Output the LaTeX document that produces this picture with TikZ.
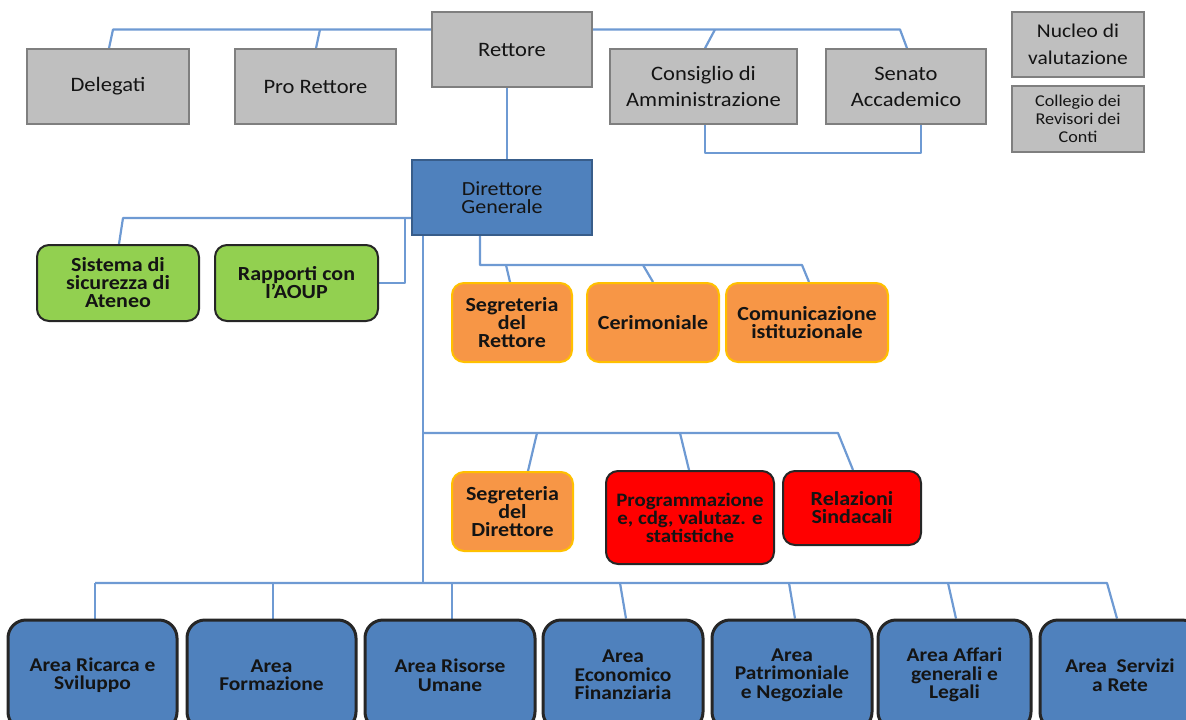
\documentclass[tikz,border=0pt]{standalone}
\usepackage{fontspec}
\setmainfont{Carlito}[FakeStretch=1.1]
\usetikzlibrary{backgrounds}
\definecolor{grayfill}{HTML}{BFBFBF}
\definecolor{grayline}{HTML}{7F7F7F}
\definecolor{bluefill}{HTML}{4F81BD}
\definecolor{blueline}{HTML}{385D8A}
\definecolor{greenfill}{HTML}{92D050}
\definecolor{orangefill}{HTML}{F79646}
\definecolor{orangeline}{HTML}{FFC000}
\definecolor{redfill}{HTML}{FF0000}
\definecolor{connc}{HTML}{6E9AD3}
\definecolor{txt}{HTML}{141414}
\tikzset{
  box/.style={rectangle, inner sep=2pt, align=center, text=txt},
  graybox/.style={box, fill=grayfill, draw=grayline, line width=1.5pt, font=\fontsize{20.5}{26}\selectfont},
  smallgray/.style={box, fill=grayfill, draw=grayline, line width=1.5pt, font=\fontsize{16.5}{18}\selectfont},
  dgbox/.style={box, fill=bluefill, draw=blueline, line width=1.5pt, font=\fontsize{20}{18}\selectfont},
  areabox/.style={box, fill=bluefill, draw=black!85, line width=3pt, rounded corners=18pt, font=\bfseries\fontsize{19.5}{18.5}\selectfont},
  greenbox/.style={box, fill=greenfill, draw=black!85, line width=2pt, rounded corners=12pt, font=\bfseries\fontsize{20}{18}\selectfont},
  orangebox/.style={box, fill=orangefill, draw=orangeline, line width=2pt, rounded corners=12pt, font=\bfseries\fontsize{20}{18}\selectfont},
  redbox/.style={box, fill=redfill, draw=black!85, line width=2pt, rounded corners=12pt, font=\bfseries\fontsize{20}{18}\selectfont},
  conn/.style={draw=connc, line width=2.2pt, line join=round},
}
\begin{document}
\begin{tikzpicture}[x=1pt, y=-1pt]
\path[use as bounding box] (0,0) rectangle (1186,720);
\clip (0,0) rectangle (1186,720);
% top level
\node[graybox, minimum width=162pt, minimum height=75pt] (del) at (108,86.5) {Delegati};
\node[graybox, minimum width=161pt, minimum height=75pt] (pro) at (315.5,86.5) {Pro Rettore};
\node[graybox, minimum width=160pt, minimum height=75pt] (ret) at (512,49.5) {Rettore};
\node[graybox, minimum width=187pt, minimum height=75pt] (cda) at (703.5,86.5) {Consiglio di\\Amministrazione};
\node[graybox, minimum width=160pt, minimum height=75pt] (sen) at (906,86.5) {Senato\\Accademico};
\node[graybox, minimum width=132pt, minimum height=65pt, font=\fontsize{19.5}{27}\selectfont] (nuc) at (1078,44.5) {Nucleo di\\valutazione};
\node[smallgray, minimum width=132pt, minimum height=66pt] (col) at (1078,119) {Collegio dei\\Revisori dei\\Conti};
% director
\node[dgbox, minimum width=180pt, minimum height=75pt] (dg) at (502,197.5) {Direttore\\Generale};
\node[greenbox, minimum width=162pt, minimum height=76pt] (sis) at (118,283) {Sistema di\\sicurezza di\\Ateneo};
\node[greenbox, minimum width=163pt, minimum height=76pt] (rap) at (296.5,283) {Rapporti con\\l'AOUP};
\node[orangebox, minimum width=120pt, minimum height=79pt] (segr) at (512,322.5) {Segreteria\\del\\Rettore};
\node[orangebox, minimum width=132pt, minimum height=79pt] (cer) at (653,322.5) {Cerimoniale};
\node[orangebox, minimum width=162pt, minimum height=79pt] (com) at (807,322.5) {Comunicazione\\istituzionale};
\node[orangebox, minimum width=121pt, minimum height=79pt] (segd) at (512.5,511.5) {Segreteria\\del\\Direttore};
\node[redbox, minimum width=168pt, minimum height=93pt, font=\bfseries\fontsize{19}{18}\selectfont] (prog) at (690,517.5) {Programmazione\\e, cdg, valutaz. e\\statistiche};
\node[redbox, minimum width=138pt, minimum height=74pt] (rel) at (852,508) {Relazioni\\Sindacali};
% areas
\node[areabox, minimum width=169pt, minimum height=110pt] (a1) at (92.5,675) {Area Ricarca e\\Sviluppo};
\node[areabox, minimum width=169pt, minimum height=110pt] (a2) at (271.5,675) {Area\\Formazione};
\node[areabox, minimum width=170pt, minimum height=110pt] (a3) at (450,675) {Area Risorse\\Umane};
\node[areabox, minimum width=160pt, minimum height=110pt] (a4) at (623,675) {Area\\Economico\\Finanziaria};
\node[areabox, minimum width=160pt, minimum height=110pt] (a5) at (792,675) {Area\\Patrimoniale\\e Negoziale};
\node[areabox, minimum width=153pt, minimum height=110pt] (a6) at (954.5,675) {Area Affari\\generali e\\Legali};
\node[areabox, minimum width=160pt, minimum height=110pt] (a7) at (1120,675) {Area~ Servizi\\a Rete};
% connectors
\begin{scope}[on background layer]
\coordinate (tl) at (113,29.5);
\coordinate (tp) at (320,29.5);
\coordinate (tc) at (715,29.5);
\coordinate (ts) at (900,29.5);
\draw[conn] ([yshift=20pt]ret.west) -- (tl) -- ([xshift=1pt]del.north);
\draw[conn] (tp) -- ([xshift=0.5pt]pro.north);
\draw[conn] ([yshift=20pt]ret.east) -- (ts) -- ([xshift=1pt]sen.north);
\draw[conn] (tc) -- ([xshift=1.5pt]cda.north);
\draw[conn] ([xshift=1.5pt]cda.south) -- ++(0,28) -| ([xshift=15pt]sen.south);
\draw[conn] ([xshift=-5pt]ret.south) -- ([xshift=-5pt]ret.south |- dg.north);
% left branch
\coordinate (lb) at (123,218);
\coordinate (lv) at (405,218);
\draw[conn] ([yshift=-20.5pt]dg.west) -- (lb) -- ([xshift=1pt]sis.north);
\draw[conn] (lv) |- (rap.east);
% rettore staff branch
\coordinate (rs1) at (480,265);
\coordinate (rs2) at (506,265);
\coordinate (rs3) at (643,265);
\coordinate (rs4) at (802,265);
\draw[conn] ([xshift=-22pt]dg.south) -- (rs1) -- (rs4) -- ([xshift=2pt]com.north);
\draw[conn] (rs2) -- ([xshift=-2pt]segr.north);
\draw[conn] (rs3) -- (cer.north);
% trunk
\coordinate (tb) at (423,583);
\draw[conn] ([xshift=-79pt]dg.south) -- (tb);
% director staff branch
\coordinate (ds0) at (423,433);
\coordinate (ds1) at (537,433);
\coordinate (ds2) at (680,433);
\coordinate (ds3) at (838,433);
\draw[conn] (ds0) -- (ds3) -- ([xshift=1pt]rel.north);
\draw[conn] (ds1) -- ([xshift=15.5pt]segd.north);
\draw[conn] (ds2) -- ([xshift=-1pt]prog.north);
% areas bar
\coordinate (b1) at (95,583);
\coordinate (b2) at (273,583);
\coordinate (b3) at (452,583);
\coordinate (b4) at (620,583);
\coordinate (b5) at (789,583);
\coordinate (b6) at (948,583);
\coordinate (b7) at (1107,583);
\draw[conn] (b1) -- (b7) -- ([xshift=-3pt]a7.north);
\draw[conn] (b1) -- ([xshift=2.5pt]a1.north);
\draw[conn] (b2) -- ([xshift=1.5pt]a2.north);
\draw[conn] (b3) -- ([xshift=2pt]a3.north);
\draw[conn] (b4) -- ([xshift=3pt]a4.north);
\draw[conn] (b5) -- ([xshift=3pt]a5.north);
\draw[conn] (b6) -- ([xshift=1.5pt]a6.north);
\end{scope}
\end{tikzpicture}
\end{document}
